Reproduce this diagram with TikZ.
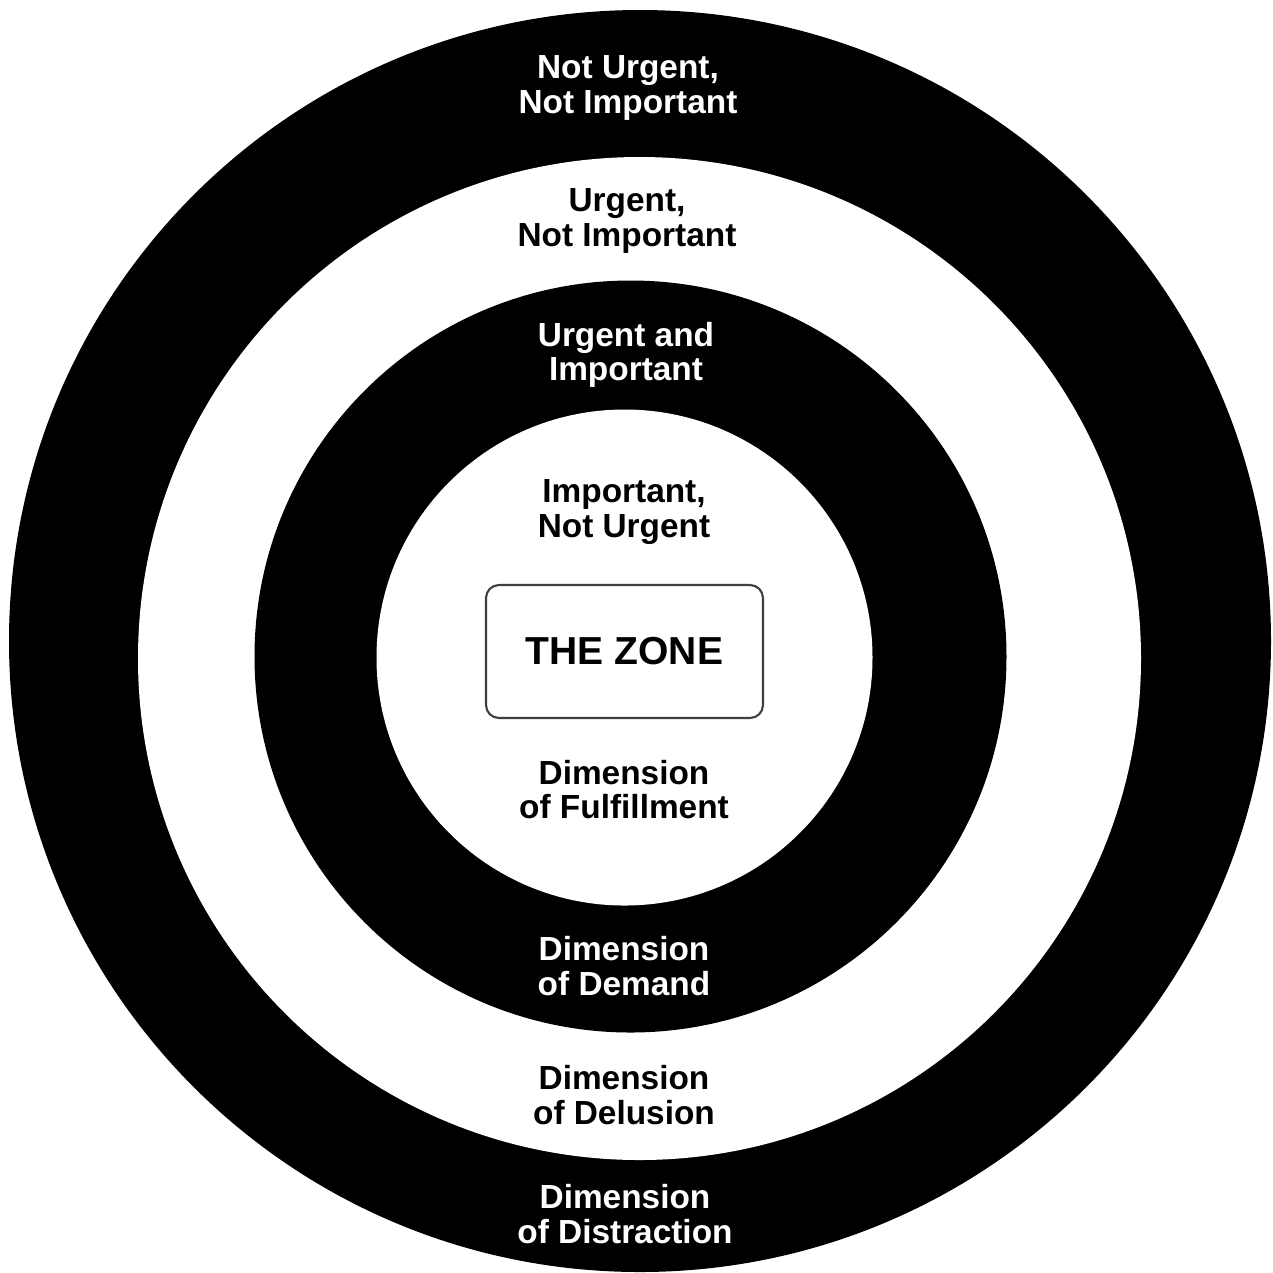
\documentclass[tikz,border=0pt]{standalone}
\usepackage{fontspec}
\setmainfont{Liberation Sans}
\tikzset{
  ringtext/.style={align=center,inner sep=0pt,font=\bfseries\fontsize{9.5}{9.7}\selectfont},
  ondark/.style={ringtext,text=white},
  onlight/.style={ringtext,text=black},
  zonebox/.style={draw=black!75,line width=0.6pt,rounded corners=0.13cm,minimum width=2.77cm,minimum height=1.33cm,font=\bfseries\fontsize{11.1}{13}\selectfont}
}
\begin{document}
\begin{tikzpicture}
  \fill[white] (0,0) rectangle (12.73,-12.72);
  \fill[black] (6.40,-6.41) circle (6.31);
  \fill[white] (6.395,-6.585) circle (5.015);
  \fill[black] (6.305,-6.565) circle (3.76);
  \fill[white] (6.245,-6.575) circle (2.48);
  \node[zonebox] (zone) at (6.245,-6.515) {THE ZONE};
  \node[ondark] (notnot) at (6.28,-0.88) {Not Urgent,\\Not Important};
  \node[onlight] (urgnot) at (6.27,-2.21) {Urgent,\\Not Important};
  \node[ondark] (urgimp) at (6.26,-3.55) {Urgent and\\Important};
  \node[onlight] (impnot) at (6.24,-5.12) {Important,\\Not Urgent};
  \node[onlight] (fulfil) at (6.24,-7.90) {Dimension\\of Fulfillment};
  \node[ondark] (demand) at (6.24,-9.66) {Dimension\\of Demand};
  \node[onlight] (delusion) at (6.24,-10.95) {Dimension\\of Delusion};
  \node[ondark] (distract) at (6.25,-12.14) {Dimension\\of Distraction};
\end{tikzpicture}
\end{document}
